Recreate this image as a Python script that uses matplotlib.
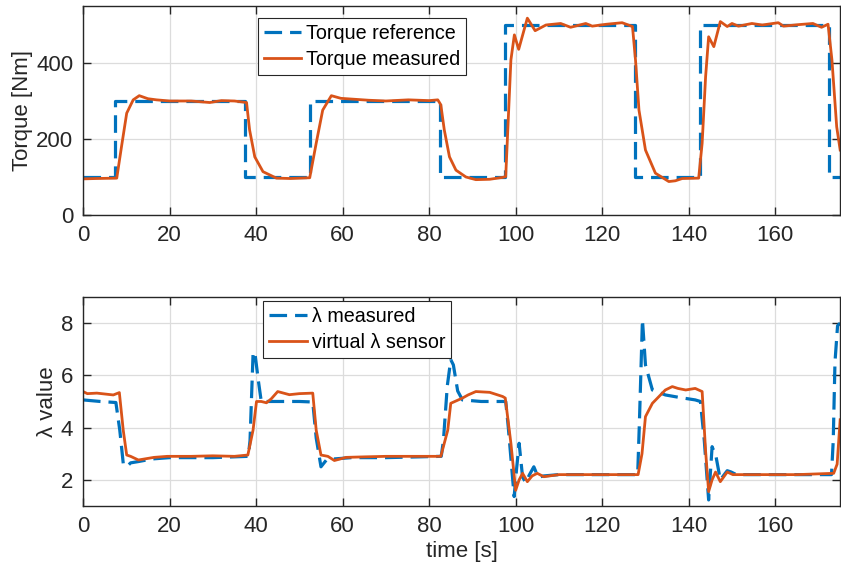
import matplotlib
matplotlib.use("Agg")
import matplotlib.pyplot as plt

plt.rcParams['font.family'] = ['Liberation Sans', 'DejaVu Sans']

# torque reference (step signal) and measured torque
torque_ref_t = [0, 7.5, 37.5, 52.5, 82.5, 97.5, 127.5, 142.5, 172.5, 175]
torque_ref = [100, 300, 100, 300, 100, 500, 100, 500, 100, 100]

torque_meas_t = [0, 3, 7.8, 8.9, 10.1, 11.6, 13.0, 15, 17, 20,
                 25, 29.3, 32, 35, 37.8, 38.5, 39.7, 41.6, 44.7, 48,
                 52.4, 53.9, 55.4, 57.4, 59.6, 66, 70, 75.2, 80, 82,
                 82.7, 83.5, 84.7, 86.2, 88.5, 90.8, 94, 97, 97.7, 98.9,
                 99.7, 100.7, 102.7, 104.5, 107, 110.4, 112.7, 116.2, 117.7, 121,
                 124.6, 127, 127.7, 128.5, 130, 132.3, 135.4, 136.9, 138.5, 142.3,
                 143.1, 143.9, 144.6, 145.8, 147.3, 148.9, 150, 151.5, 154.6, 157,
                 160.7, 161.9, 165.4, 168.7, 170.7, 172.2, 173.1, 174.2, 175]
torque_meas = [95, 96, 97, 180, 268, 303, 314, 306, 303, 300,
               300, 296, 301, 300, 296, 224, 153, 114, 97, 96,
               98, 189, 276, 314, 307, 302, 300, 303, 301, 303,
               290, 224, 153, 118, 100, 93, 94, 99, 101, 408,
               474, 436, 518, 485, 500, 504, 494, 504, 497, 502,
               506, 496, 408, 276, 171, 110, 88, 90, 96, 97,
               189, 364, 469, 443, 509, 496, 504, 497, 504, 500,
               506, 497, 501, 504, 494, 502, 408, 232, 171]

# lambda measured and virtual lambda sensor
lambda_meas_t = [0, 4, 7.6, 8.5, 9.3, 10.1, 11, 12.8, 16, 20,
                 30, 38.2, 38.6, 39.3, 39.7, 40.5, 41.2, 44, 50, 53.1,
                 53.9, 55.0, 56.2, 58, 62, 70, 82.8, 83.3, 84.2, 85.0,
                 85.6, 86.6, 87.7, 92, 97.7, 98.3, 99.65, 100.2, 100.8, 101.6,
                 102.3, 103.2, 104.2, 105.2, 106.5, 110, 120, 128.2, 128.6, 129.3,
                 130, 131.6, 134.6, 138, 141.5, 142.7, 143.6, 144.6, 145.4, 146.3,
                 147.3, 148.9, 149.8, 151, 160, 173, 173.4, 173.8, 174.4, 175]
lambda_meas = [5.06, 5.0, 4.96, 3.9, 2.63, 2.5, 2.65, 2.7, 2.8, 2.85,
               2.85, 2.9, 3.5, 6.8, 6.9, 5.83, 5.0, 5.0, 5.0, 4.98,
               3.6, 2.5, 2.75, 2.8, 2.85, 2.85, 2.9, 3.5, 5.6, 6.6,
               6.4, 5.4, 5.06, 5.0, 5.0, 4.0, 1.36, 2.4, 3.4, 2.1,
               1.9, 2.2, 2.5, 2.1, 2.15, 2.2, 2.2, 2.2, 4.2, 8.13,
               6.4, 5.44, 5.25, 5.15, 5.06, 5.0, 3.5, 1.23, 3.27, 2.9,
               2.0, 2.35, 2.3, 2.2, 2.2, 2.2, 3.5, 6.5, 7.9, 8.0]

lambda_virt_t = [0, 1, 3.2, 7, 8.4, 9.3, 10.1, 11, 12.8, 16.4,
                 19.5, 25, 30, 35, 38.1, 39.3, 40.1, 41.2, 42.4, 43.5,
                 45, 47.7, 50, 53.1, 53.9, 55.0, 56.6, 58.1, 60.8, 65,
                 70, 75, 82.7, 84.3, 85.0, 87.7, 89, 90.8, 94, 97,
                 97.6, 98.9, 100, 100.8, 101.6, 102.7, 103.8, 105, 106.5, 110,
                 120, 128.3, 129.2, 130, 131.6, 134.6, 136.2, 137.5, 139.3, 141.5,
                 143.1, 143.9, 144.6, 145.4, 146.2, 147.3, 148.9, 150.2, 155, 165,
                 173.5, 174.3, 175]
lambda_virt = [5.38, 5.3, 5.32, 5.25, 5.34, 3.9, 2.95, 2.9, 2.76, 2.86,
               2.9, 2.9, 2.92, 2.9, 2.95, 3.9, 5.0, 5.0, 4.95, 5.1,
               5.38, 5.26, 5.3, 5.32, 3.9, 2.95, 2.9, 2.74, 2.86, 2.88,
               2.9, 2.9, 2.9, 3.9, 4.93, 5.13, 5.25, 5.38, 5.35, 5.19,
               5.13, 3.4, 1.6, 2.0, 2.25, 1.93, 2.15, 2.25, 2.12, 2.2,
               2.2, 2.2, 3.0, 4.42, 4.93, 5.44, 5.57, 5.5, 5.44, 5.5,
               5.38, 3.1, 1.55, 2.0, 2.3, 1.93, 2.3, 2.2, 2.2, 2.2,
               2.25, 2.6, 4.3]

blue = '#0072BD'
orange = '#D95319'
txt = '#262626'
dash = (0, (5.5, 2.5))

fig = plt.figure(figsize=(8.41, 5.77), dpi=100)
ax1 = fig.add_axes([0.0987, 0.6274, 0.9003, 0.3622])
ax2 = fig.add_axes([0.0987, 0.1231, 0.9003, 0.3622])

ax1.plot(torque_ref_t, torque_ref, drawstyle='steps-post', color=blue, lw=2.3,
         ls=dash, label='Torque reference')
ax1.plot(torque_meas_t, torque_meas, color=orange, lw=2.0, label='Torque measured')
ax1.set_ylim(0, 550)
ax1.set_yticks([0, 200, 400])
ax1.set_ylabel('Torque [Nm]', fontsize=16, color=txt, labelpad=2)

ax2.plot(lambda_meas_t, lambda_meas, color=blue, lw=2.3, ls=dash, label='λ measured')
ax2.plot(lambda_virt_t, lambda_virt, color=orange, lw=2.0, label='virtual λ sensor')
ax2.set_ylim(1, 9)
ax2.set_yticks([2, 4, 6, 8])
ax2.set_ylabel('λ value', fontsize=16, color=txt, labelpad=2)
ax2.set_xlabel('time [s]', fontsize=16, color=txt, labelpad=3)

for ax in (ax1, ax2):
    ax.set_xlim(0, 175)
    ax.set_xticks(range(0, 161, 20))
    ax.grid(True, color='#dcdcdc', lw=0.9)
    ax.set_axisbelow(True)
    ax.tick_params(direction='in', top=True, right=True, length=6, width=1,
                   labelsize=16, colors=txt, pad=7)
    for sp in ax.spines.values():
        sp.set_color(txt)
        sp.set_linewidth(1.0)

leg_kw = dict(loc='upper left', fontsize=14.2, frameon=True, fancybox=False,
              framealpha=1, edgecolor=txt, borderpad=0.3, labelspacing=0.35,
              handlelength=1.9, handletextpad=0.25, borderaxespad=0)
leg1 = ax1.legend(bbox_to_anchor=(0.231, 0.943), **leg_kw)
leg2 = ax2.legend(bbox_to_anchor=(0.238, 0.981), **leg_kw)
for leg in (leg1, leg2):
    leg.get_frame().set_linewidth(0.8)
    for t in leg.get_texts():
        t.set_color('black')

fig.savefig('out.png', dpi=100)
